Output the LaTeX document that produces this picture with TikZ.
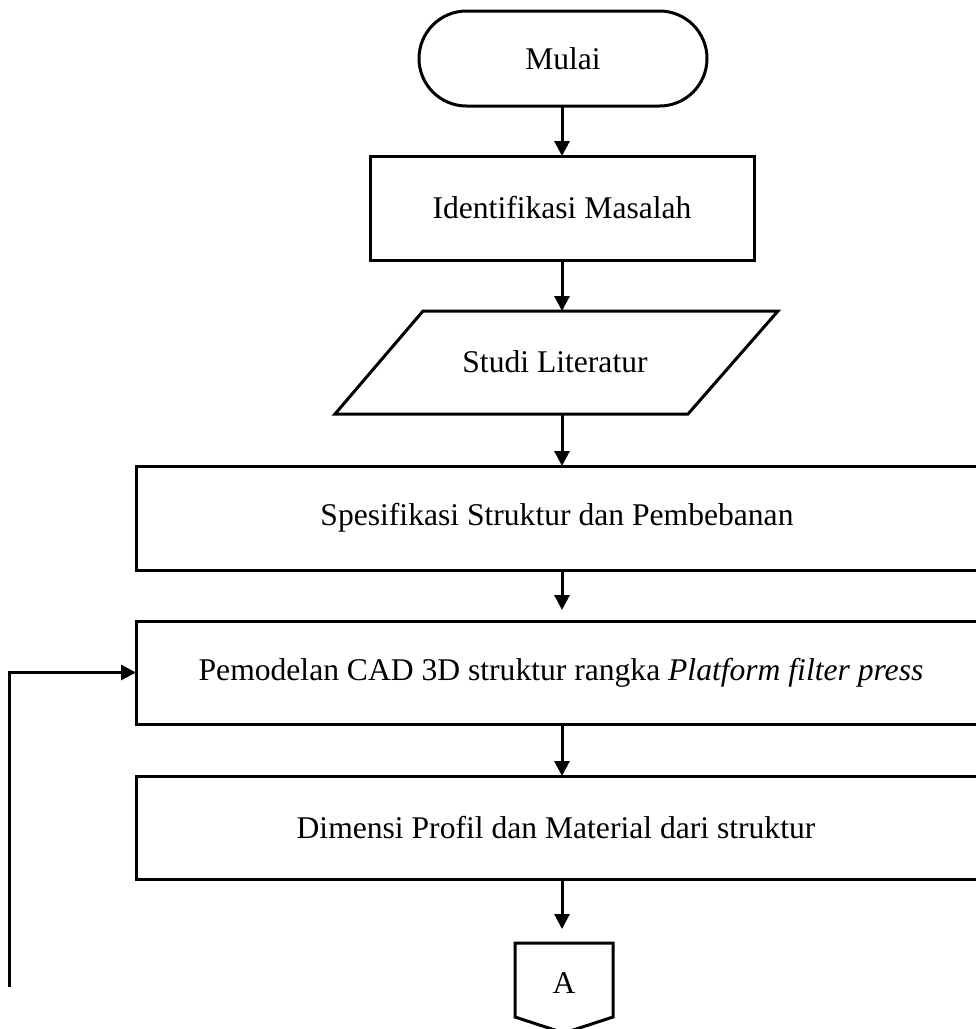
\documentclass[tikz,border=0pt]{standalone}
\usepackage{fontspec}
\setmainfont{Liberation Serif}
\usetikzlibrary{arrows.meta,shapes.misc}
\begin{document}
\begin{tikzpicture}[x=1pt,y=-1pt,
  every node/.style={font=\fontsize{31.6}{38}\selectfont},
  ln/.style={line width=3pt, line join=miter},
  box/.style={draw, ln, rectangle, inner sep=0pt, outer sep=0pt},
  term/.style={draw, ln, rounded rectangle, inner sep=0pt, outer sep=0pt},
  arr/.style={ln, -{Triangle[length=15pt,width=15pt]}},
  lbl/.style={inner sep=0pt}]
\useasboundingbox (0,0) rectangle (976,1029);
\clip (0,0) rectangle (976,1029);
\fill[white] (0,0) rectangle (976,1029);
% Start
\node[term, minimum width=288pt, minimum height=95pt] (mulai) at (563,58.5) {Mulai};
% Identifikasi
\node[box, minimum width=384pt, minimum height=104pt] (ident) at (562,208) {Identifikasi Masalah};
% Studi Literatur (parallelogram)
\coordinate (sTL) at (423,311);
\coordinate (sTR) at (778,311);
\coordinate (sBR) at (688,414);
\coordinate (sBL) at (335,414);
\draw[ln] (sTL) -- (sTR) -- (sBR) -- (sBL) -- cycle;
\node[lbl] (studi) at (555,362) {Studi Literatur};
\coordinate (studiN) at (562,311);
\coordinate (studiS) at (562,414);
% Spesifikasi
\node[box, minimum width=864pt, minimum height=104pt] (spes) at (568,518) {};
\node[lbl] (spesT) at (557,518) {Spesifikasi Struktur dan Pembebanan};
% Pemodelan
\node[box, minimum width=864pt, minimum height=103pt] (pem) at (568,672.5) {};
\node[lbl] (pemT) at (561,672.5) {Pemodelan CAD 3D struktur rangka \textit{Platform filter press}};
% Dimensi
\node[box, minimum width=864pt, minimum height=103pt] (dim) at (568,827.5) {};
\node[lbl] (dimT) at (556,827.5) {Dimensi Profil dan Material dari struktur};
% Off-page connector A
\coordinate (aTL) at (515,943);
\coordinate (aTR) at (613,943);
\coordinate (aR) at (613,1017);
\coordinate (aB) at (564,1033);
\coordinate (aL) at (515,1017);
\draw[ln] (aTL) -- (aTR) -- (aR) -- (aB) -- (aL) -- cycle;
\node[lbl] (A) at (564,983) {A};
% connectors
\draw[arr] (mulai.south -| 562,0) -- (ident.north -| 562,0);
\draw[arr] (ident.south -| 562,0) -- (studiN);
\draw[arr] (studiS) -- (spes.north -| 562,0);
\coordinate (spesArrEnd) at (562,610);
\draw[arr] (spes.south -| 562,0) -- (spesArrEnd);
\draw[arr] (pem.south -| 562,0) -- (dim.north -| 562,0);
\coordinate (dimArrEnd) at (562,929);
\draw[arr] (dim.south -| 562,0) -- (dimArrEnd);
% feedback loop
\coordinate (fb0) at (9,987);
\draw[arr] (fb0) -- (9,672.5) -- (pem.west);
\end{tikzpicture}
\end{document}
